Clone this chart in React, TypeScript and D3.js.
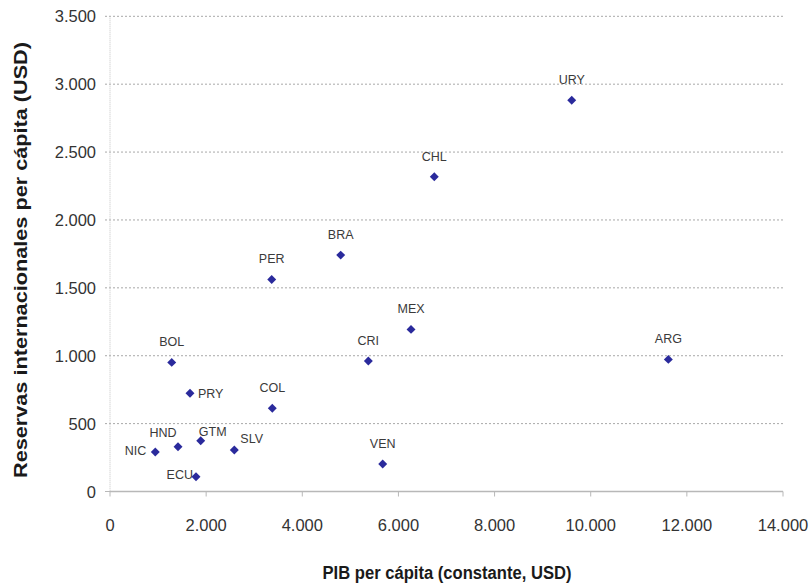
import React from "react";
import * as d3 from "d3";

const countries = ["URY", "CHL", "BRA", "PER", "MEX", "CRI", "ARG", "BOL", "PRY", "COL", "VEN", "NIC", "HND", "GTM", "SLV", "ECU"];
const gdpPerCapita = [9605, 6746, 4799, 3364, 6262, 5374, 11615, 1284, 1664, 3376, 5673, 942, 1415, 1887, 2586, 1789];
const reservesPerCapita = [2882, 2318, 1741, 1562, 1194, 961, 973, 951, 723, 613, 202, 291, 330, 374, 306, 109];
const labelPlacement = ["top", "top", "top", "top", "top", "top", "top", "top", "right", "top", "top", "left", "upleft", "upright", "rightup", "leftclose"];

const xTicks = [0, 2000, 4000, 6000, 8000, 10000, 12000, 14000];
const yTicks = [0, 500, 1000, 1500, 2000, 2500, 3000, 3500];
const xTitle = "PIB per cápita (constante, USD)";
const yTitle = "Reservas internacionales per cápita (USD)";

const W = 811;
const H = 586;
const fmt = (v: number) => d3.format(",")(v).replace(/,/g, ".");

const placement: Record<string, { dx: number; dy: number; anchor: string }> = {
  top: { dx: 0, dy: -16, anchor: "middle" },
  right: { dx: 8, dy: 4.5, anchor: "start" },
  left: { dx: -9, dy: 3.5, anchor: "end" },
  leftclose: { dx: -3, dy: 2, anchor: "end" },
  upleft: { dx: -15, dy: -9.5, anchor: "middle" },
  upright: { dx: 12, dy: -4.5, anchor: "middle" },
  rightup: { dx: 6, dy: -6.5, anchor: "start" },
};

export default function App() {
  const x = d3.scaleLinear().domain([0, 14000]).range([110, 783]);
  const y = d3.scaleLinear().domain([0, 3500]).range([491.5, 16.3]);
  const diamond = d3.symbol().type(d3.symbolSquare).size(40)();
  const font = "Arial, 'Liberation Sans', Helvetica, sans-serif";

  return (
    <div style={{ position: "absolute", left: 0, top: 0 }}>
      <svg width={W} height={H} style={{ display: "block", background: "#fff" }} fontFamily={font}>
        {/* gridlines */}
        {yTicks.slice(1).map((t) => (
          <line key={"g" + t} x1={105} x2={783} y1={y(t)} y2={y(t)} stroke="#a8a8a8" strokeWidth={1} strokeDasharray="2,2" />
        ))}
        {/* left axis (dotted) */}
        <line x1={x(0)} x2={x(0)} y1={y(3500)} y2={y(0)} stroke="#c4c4c4" strokeWidth={1} strokeDasharray="1,1" />
        <line x1={105} x2={x(0)} y1={y(0)} y2={y(0)} stroke="#b8b8b8" strokeWidth={1} />
        {/* bottom axis */}
        <line x1={x(0)} x2={x(14000)} y1={y(0)} y2={y(0)} stroke="#b8b8b8" strokeWidth={1.5} />
        {xTicks.map((t) => (
          <line key={"xt" + t} x1={x(t)} x2={x(t)} y1={y(0)} y2={y(0) + 5} stroke="#b8b8b8" strokeWidth={1} />
        ))}
        {/* tick labels */}
        {yTicks.map((t) => (
          <text key={"yl" + t} x={96} y={y(t) + 6} textAnchor="end" fontSize={16.5} fill="#333">
            {fmt(t)}
          </text>
        ))}
        {xTicks.map((t) => (
          <text key={"xl" + t} x={x(t)} y={y(0) + 39} textAnchor="middle" fontSize={16.5} fill="#333">
            {fmt(t)}
          </text>
        ))}
        {/* axis titles */}
        <text x={447} y={579} textAnchor="middle" fontSize={17.5} fontWeight="bold" fill="#1a1a1a" textLength={249} lengthAdjust="spacingAndGlyphs">
          {xTitle}
        </text>
        <text
          transform={`translate(26.5, ${260}) rotate(-90)`}
          textAnchor="middle"
          fontSize={17.5}
          fontWeight="bold"
          fill="#1a1a1a"
          textLength={436}
          lengthAdjust="spacingAndGlyphs"
        >
          {yTitle}
        </text>
        {/* points */}
        {countries.map((c, i) => {
          const px = x(gdpPerCapita[i]);
          const py = y(reservesPerCapita[i]);
          const p = placement[labelPlacement[i]];
          return (
            <g key={c}>
              <path d={diamond as string} transform={`translate(${px},${py}) rotate(45)`} fill="#2a2a9c" />
              <text x={px + p.dx} y={py + p.dy} textAnchor={p.anchor as any} fontSize={12.5} fill="#3a3a3a">
                {c}
              </text>
            </g>
          );
        })}
      </svg>
    </div>
  );
}
